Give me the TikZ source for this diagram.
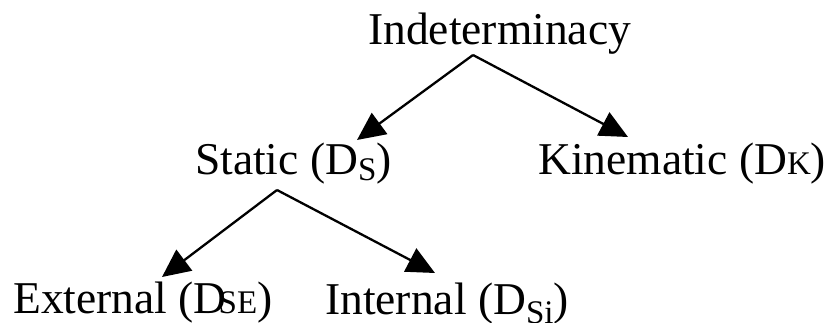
\documentclass[tikz,border=0pt]{standalone}
\usepackage{fontspec}
\setmainfont{Liberation Serif}
\usetikzlibrary{arrows.meta}
\newcommand{\lowsub}[2]{\raisebox{#1}{\fontsize{33}{36}\selectfont #2}}
\begin{document}
\begin{tikzpicture}[x=1pt,y=-1pt,
  lbl/.style={anchor=base west,inner sep=0pt,font=\fontsize{45.5}{50}\selectfont},
  arr/.style={line width=2.3pt,-{Triangle[length=28pt,width=26pt]}}]
\useasboundingbox (0,0) rectangle (828,323);
\node[lbl] (ind) at (368,45) {Indeterminacy};
\node[lbl] (sta) at (195,175) {Static (D\lowsub{-6pt}{S})};
\node[lbl] (kin) at (538,175) {Kinematic (D\lowsub{0pt}{K})};
\node[lbl] (ext) at (13,313) {External (D\kern-8pt\lowsub{-1pt}{SE})};
\node[lbl] (int) at (325,315) {Internal (D\lowsub{-9pt}{Si})};
\coordinate (a1) at (473,55);
\coordinate (t1) at (357,140);
\coordinate (t2) at (628,137);
\coordinate (a2) at (277,190);
\coordinate (t3) at (162,277);
\coordinate (t4) at (435,273);
\draw[arr] (a1) -- (t1);
\draw[arr] (a1) -- (t2);
\draw[arr] (a2) -- (t3);
\draw[arr] (a2) -- (t4);
\end{tikzpicture}
\end{document}
